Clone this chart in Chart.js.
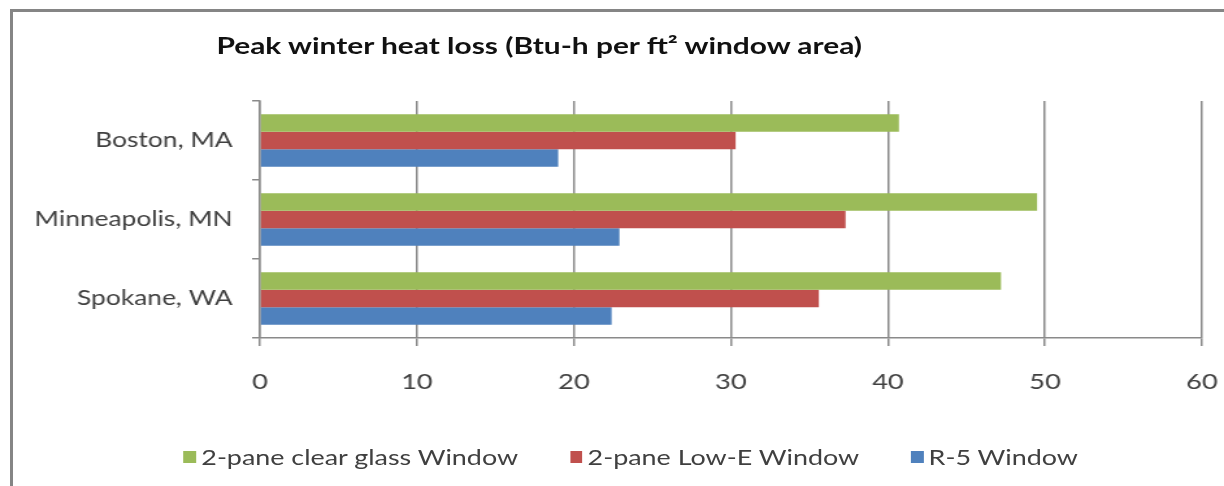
<!DOCTYPE html>
<html>
<head>
<meta charset="utf-8">
<script src="https://cdn.jsdelivr.net/npm/chart.js@4.4.1/dist/chart.umd.min.js"></script>
<style>
  html, body { margin: 0; padding: 0; background: #fff; }
  body { width: 1224px; height: 486px; overflow: hidden; position: relative; font-family: Lato, "Open Sans", sans-serif; }
  #frame { position: absolute; left: 10px; top: 9px; width: 1240px; height: 500px;
           border-top: 3px solid #858585; border-left: 3px solid #858585; }
  /* the drawing is laid out on a narrower stage and widened horizontally */
  #stage { position: absolute; left: 0; top: 0; width: 942px; height: 486px;
           transform: scaleX(1.2994); transform-origin: 0 0; }
  #stage canvas { position: absolute; left: 0; top: 0; }
  #title { position: absolute; left: 0; top: 31px; width: 830px; text-align: center;
           font-weight: 700; font-size: 23px; line-height: 28px; color: #111; white-space: nowrap; }
  #legend { position: absolute; left: 0; top: 445px; width: 971px; display: flex; justify-content: center;
            font-size: 20.7px; line-height: 24px; color: #404040; white-space: nowrap; }
  .item { display: flex; align-items: center; margin: 0 20px; }
  .swatch { display: inline-block; width: 9.5px; height: 12px; margin-right: 4px; }
</style>
</head>
<body>
<div id="frame"></div>
<div id="stage">
  <canvas id="chart" width="942" height="486"></canvas>
  <div id="title">Peak winter heat loss (Btu-h per ft² window area)</div>
  <div id="legend"></div>
</div>
<script>
// Cities on the category axis, top to bottom
const categories = ['Boston, MA', 'Minneapolis, MN', 'Spokane, WA'];

// Peak winter heat loss, Btu-h per square foot of window
const seriesNames = ['2-pane clear glass Window', '2-pane Low-E Window', 'R-5 Window'];
const clearGlass = [40.7, 49.5, 47.2];
const lowE       = [30.3, 37.3, 35.6];
const r5Window   = [19.0, 22.9, 22.4];

// Value axis ticks
const xTicks = [0, 10, 20, 30, 40, 50, 60];

const colors = ['#9BBB59', '#C0504D', '#4F81BD'];
const seriesValues = [clearGlass, lowE, r5Window];

const axisGray = '#8a8a8a';
const fontFamily = 'Lato, "Open Sans", sans-serif';

new Chart(document.getElementById('chart'), {
  type: 'bar',
  data: {
    labels: categories,
    datasets: seriesNames.map((name, i) => ({
      label: name,
      data: seriesValues[i],
      backgroundColor: colors[i],
      borderWidth: 0
    }))
  },
  options: {
    indexAxis: 'y',
    responsive: false,
    animation: false,
    devicePixelRatio: 1,
    layout: { padding: { left: 0, right: 17, top: 101, bottom: 88 } },
    datasets: { bar: { categoryPercentage: 0.665, barPercentage: 1.0 } },
    plugins: {
      legend: { display: false },
      title: { display: false },
      tooltip: { enabled: false }
    },
    scales: {
      x: {
        min: xTicks[0],
        max: xTicks[xTicks.length - 1],
        afterBuildTicks(scale) { scale.ticks = xTicks.map(v => ({ value: v })); },
        ticks: { font: { family: fontFamily, size: 21 }, color: '#404040', padding: 24 },
        grid: { color: axisGray, lineWidth: 1.5, tickLength: 8 },
        border: { color: axisGray, width: 1.5 },
        afterFit(scale) {
          scale.height = 60;
          // end labels sit inside the layout padding already
          scale.paddingLeft = 0;
          scale.paddingRight = 0;
        }
      },
      y: {
        ticks: { font: { family: fontFamily, size: 20.3 }, color: '#404040', padding: 15 },
        grid: { drawOnChartArea: false, offset: true, color: axisGray, lineWidth: 1.5, tickLength: 6 },
        border: { color: axisGray, width: 1.5 },
        afterFit(scale) { scale.width = 200; }
      }
    }
  }
});

// Legend entries, one swatch per series
const legend = document.getElementById('legend');
seriesNames.forEach((name, i) => {
  const item = document.createElement('span');
  item.className = 'item';
  const sw = document.createElement('span');
  sw.className = 'swatch';
  sw.style.background = colors[i];
  item.appendChild(sw);
  item.appendChild(document.createTextNode(name));
  legend.appendChild(item);
});
</script>
</body>
</html>
